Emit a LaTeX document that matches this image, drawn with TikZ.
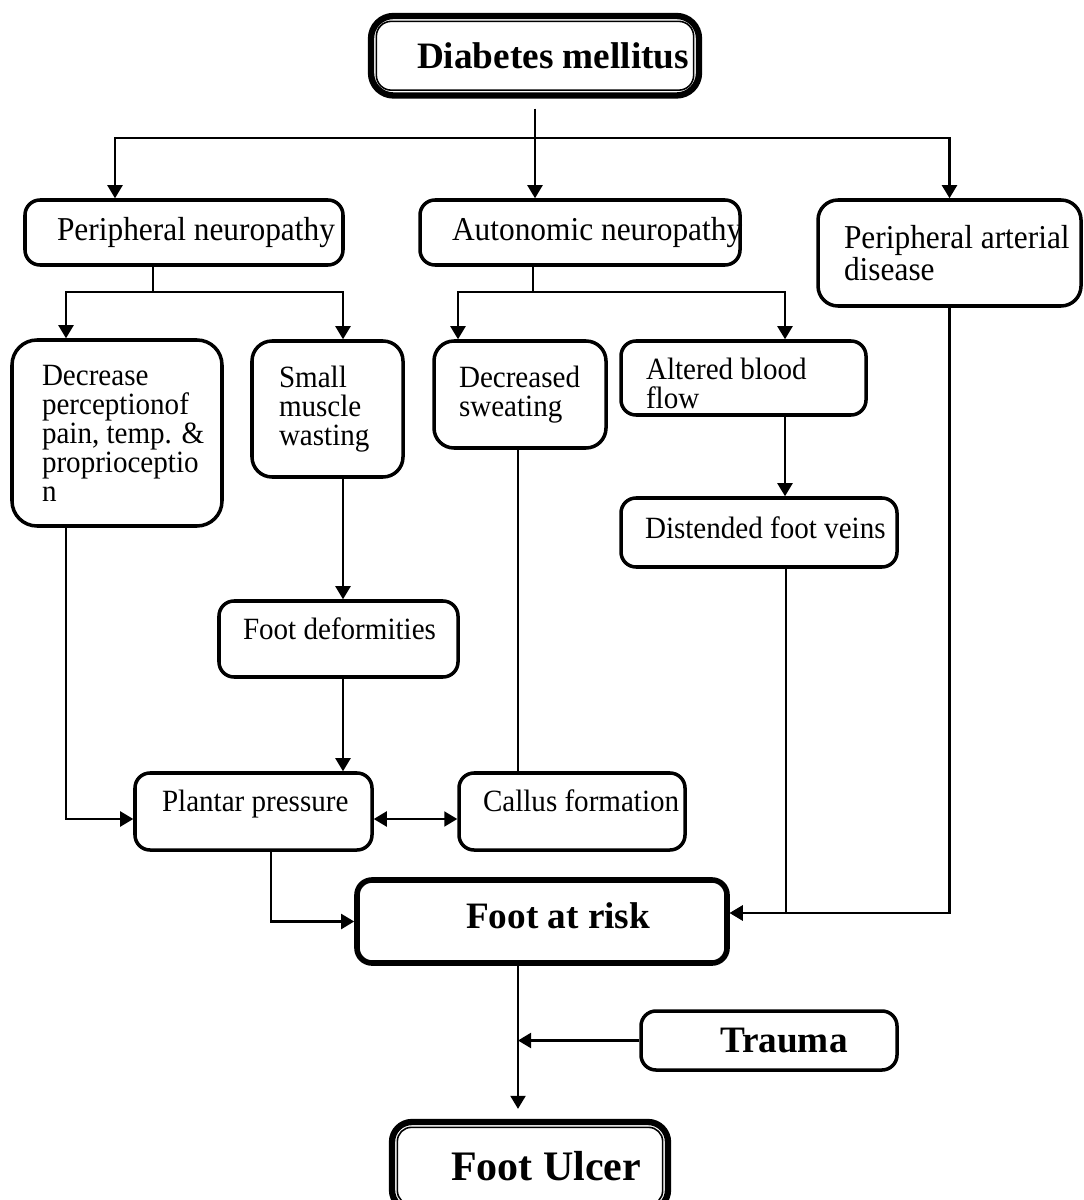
\documentclass[tikz,border=0pt]{standalone}
\usepackage{fontspec}
\setmainfont{Liberation Serif}
\newfontfamily\condserif[FakeStretch=0.94]{Liberation Serif}
\usepackage{tikz}
\usetikzlibrary{arrows.meta,calc,positioning}
\tikzstyle{line}=[draw, line width=1.2pt]
\tikzstyle{box}=[draw, line width=2pt, rounded corners=0.3cm, align=flush left, inner sep=0pt]
\newcommand{\rowtxt}{\condserif\fontsize{19pt}{17pt}\selectfont}
\newcommand{\boxtxt}{\condserif\fontsize{17.6pt}{16.5pt}\selectfont}
\newcommand{\bigtxt}{\bfseries\fontsize{21.2pt}{24pt}\selectfont}
\newcommand{\low}[1]{\rule[-#1]{0pt}{#1}}
\begin{document}
\begin{tikzpicture}[x=1cm,y=-1cm,>={Triangle[length=0.26cm,width=0.3cm]}]
\useasboundingbox (0,0) rectangle (21.66,24);
% top box, double frame
\node[box, line width=3.6pt, rounded corners=0.45cm, minimum width=6.56cm, minimum height=1.59cm, text width=4.72cm, font=\bigtxt] (diabetes) at (10.70,1.115) {\mbox{Diabetes mellitus}};
\draw[line width=0.9pt, rounded corners=0.3cm] ([shift={(0.17,0.17)}]diabetes.north west) rectangle ([shift={(-0.17,-0.17)}]diabetes.south east);
% second row
\node[box, minimum width=6.36cm, minimum height=1.30cm, text width=5.08cm, font=\rowtxt] (periph) at (3.68,4.65) {\mbox{Peripheral neuropathy}};
\node[box, minimum width=6.40cm, minimum height=1.30cm, text width=5.12cm, font=\rowtxt] (auto) at (11.60,4.65) {\mbox{Autonomic neuropathy}};
\node[box, rounded corners=0.4cm, minimum width=5.26cm, minimum height=2.12cm, text width=4.22cm, font=\rowtxt] (arterial) at (18.99,5.06) {\mbox{Peripheral arterial}\\disease};
% third row
\node[box, rounded corners=0.5cm, minimum width=4.20cm, minimum height=3.72cm, text width=3.0cm, font=\boxtxt] (percep) at (2.34,8.66) {Decrease\\\mbox{perceptionof}\\\mbox{pain, temp. \&}\\\mbox{proprioceptio}\\n};
\node[box, rounded corners=0.4cm, minimum width=3.02cm, minimum height=2.72cm, text width=1.94cm, font=\boxtxt] (muscle) at (6.55,8.18) {Small\\muscle\\\mbox{wasting}};
\node[box, rounded corners=0.4cm, minimum width=3.44cm, minimum height=2.14cm, text width=2.44cm, font=\boxtxt] (sweat) at (10.40,7.89) {\mbox{Decreased}\\sweating};
\node[box, minimum width=4.90cm, minimum height=1.48cm, text width=3.90cm, font=\boxtxt] (blood) at (14.87,7.56) {\rule{0pt}{0.66cm}Altered blood\\flow};
\node[box, minimum width=5.52cm, minimum height=1.38cm, text width=4.56cm, font=\boxtxt] (veins) at (15.18,10.65) {\mbox{Distended foot veins}\low{0.20cm}};
\node[box, minimum width=4.78cm, minimum height=1.52cm, text width=3.82cm, font=\boxtxt] (deform) at (6.77,12.78) {\mbox{Foot deformities}\low{0.42cm}};
\node[box, minimum width=4.74cm, minimum height=1.54cm, text width=3.66cm, font=\boxtxt] (plantar) at (5.07,16.23) {\mbox{Plantar pressure}\low{0.42cm}};
\node[box, minimum width=4.52cm, minimum height=1.54cm, text width=3.56cm, font=\boxtxt] (callus) at (11.44,16.23) {\mbox{Callus formation}\low{0.42cm}};
% bottom
\node[box, line width=3.2pt, minimum width=7.40cm, minimum height=1.66cm, text width=3.04cm, font=\bigtxt] (risk) at (10.84,18.43) {\mbox{Foot at risk}\low{0.25cm}};
\node[box, minimum width=5.12cm, minimum height=1.18cm, text width=1.96cm, font=\bigtxt] (trauma) at (15.38,20.81) {Trauma};
\node[box, line width=3.6pt, rounded corners=0.4cm, minimum width=5.52cm, minimum height=1.76cm, text width=3.16cm, font=\bfseries\fontsize{23.9pt}{26pt}\selectfont] (ulcer) at (10.60,23.32) {\mbox{Foot Ulcer}};
\draw[line width=0.9pt, rounded corners=0.28cm] ([shift={(0.17,0.17)}]ulcer.north west) rectangle ([shift={(-0.17,-0.17)}]ulcer.south east);

\coordinate (split) at (10.70,2.76);
\coordinate (psplit) at (3.06,5.84);
\coordinate (asplit) at (10.66,5.84);
\draw[line,->,shorten <=0.2cm] (diabetes.south) -- (diabetes.south |- auto.north);
\draw[line,->] (split) -| ([xshift=-1.38cm]periph.north);
\draw[line,->] (split) -| (arterial.north);
\draw[line] (periph.south -| psplit) -- (psplit);
\draw[line,->] (psplit) -| ([xshift=-1.02cm]percep.north);
\draw[line,->] (psplit) -| ([xshift=0.31cm]muscle.north);
\draw[line] (auto.south -| asplit) -- (asplit);
\draw[line,->] (asplit) -| ([xshift=-1.24cm]sweat.north);
\draw[line,->] (asplit) -| ([xshift=0.83cm]blood.north);
\draw[line,->] ([xshift=0.31cm]muscle.south) -- ([xshift=0.31cm]muscle.south |- deform.north);
\draw[line,->] ([xshift=0.09cm]deform.south) -- ([xshift=0.09cm]deform.south |- plantar.north);
\draw[line,->] ([xshift=0.83cm]blood.south) -- ([xshift=0.83cm]blood.south |- veins.north);
\draw[line] ([xshift=-0.04cm]sweat.south) -- ([xshift=-0.04cm]sweat.south |- callus.north);
\draw[line,->] ([xshift=-1.02cm]percep.south) |- ([yshift=-0.15cm]plantar.west);
\draw[line,<->] ([yshift=-0.15cm]plantar.east) -- ([yshift=-0.15cm]callus.west);
\draw[line,->] ([xshift=0.35cm]plantar.south) |- (risk.west);
\draw[line,->] ([xshift=0.54cm]veins.south) |- ([yshift=0.17cm]risk.east);
\draw[line,->] (arterial.south) |- ([yshift=0.17cm]risk.east);
\draw[line,->,shorten >=0.2cm] ([xshift=-0.48cm]risk.south) -- ([xshift=-0.48cm]risk.south |- ulcer.north);
\draw[line,->] (trauma.west) -- ([xshift=-0.48cm]risk.south |- trauma.west);
\end{tikzpicture}
\end{document}
